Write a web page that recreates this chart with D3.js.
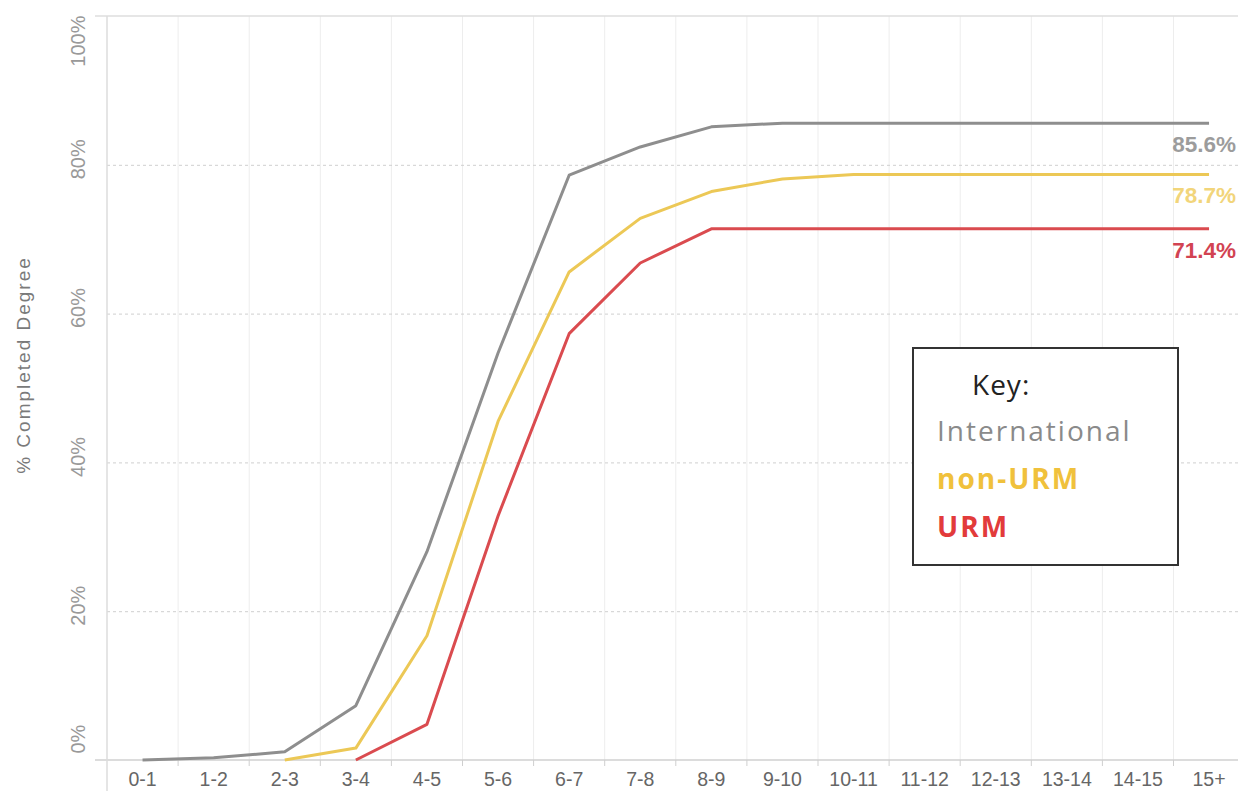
<!DOCTYPE html>
<html>
<head>
<meta charset="utf-8">
<script src="https://cdn.jsdelivr.net/npm/d3@7"></script>
<style>
    body { margin: 0; background: #fff; }
    svg { display: block; font-family: "Liberation Sans", Arial, sans-serif; }
    .grid line { stroke: #ededed; }
    .hgrid line { stroke: #cfcfcf; stroke-dasharray: 3, 3; }
    .axis path { display: none; }
</style>
</head>
<body>
<div id="chart"></div>
<script>
/* global d3 */

// DATA
var categories = ["0-1", "1-2", "2-3", "3-4", "4-5", "5-6", "6-7", "7-8",
    "8-9", "9-10", "10-11", "11-12", "12-13", "13-14", "14-15", "15+"];
var international = [0, 0.3, 1.1, 7.3, 28.0, 54.7, 78.6, 82.4, 85.1, 85.6, 85.6, 85.6, 85.6, 85.6, 85.6, 85.6];
var nonUrm = [null, null, 0, 1.6, 16.7, 45.5, 65.6, 72.8, 76.4, 78.1, 78.7, 78.7, 78.7, 78.7, 78.7, 78.7];
var urm = [null, null, null, 0, 4.8, 32.8, 57.3, 66.8, 71.4, 71.4, 71.4, 71.4, 71.4, 71.4, 71.4, 71.4];
var yTicks = [0, 20, 40, 60, 80, 100];
var seriesNames = ["URM", "non-URM", "International"];

var W = 1238, H = 791;
var margin = { top: 16, left: 107, bottom: 31 };
var bandW = 71.1;

var colors = { "International": "#8e8e8e", "non-URM": "#ecc856", "URM": "#da4b4f" };
var labelColors = { "International": "#9c9c9c", "non-URM": "#f2d57a", "URM": "#d24352" };

var x = d3.scaleBand()
    .domain(categories)
    .range([margin.left, margin.left + bandW * categories.length]);
var y = d3.scaleLinear()
    .domain([0, 100])
    .range([H - margin.bottom, margin.top]);

var svg = d3.select("#chart").append("svg")
    .attr("width", W)
    .attr("height", H);

// vertical gridlines at band boundaries
svg.append("g")
    .attr("class", "grid")
    .selectAll("line")
    .data(categories.slice(1))
    .enter().append("line")
    .attr("x1", function (d) { return x(d); })
    .attr("x2", function (d) { return x(d); })
    .attr("y1", y(100))
    .attr("y2", y(0));

// horizontal dashed gridlines
svg.append("g")
    .attr("class", "axis hgrid")
    .attr("transform", "translate(" + margin.left + ",0)")
    .call(d3.axisLeft(y).tickValues([20, 40, 60, 80]).tickSize(-(W - margin.left)).tickFormat(""));

// top / bottom / left frame lines
svg.append("line")
    .attr("x1", 95).attr("x2", W)
    .attr("y1", y(100)).attr("y2", y(100))
    .attr("stroke", "#dedede").attr("stroke-width", 1.5);
svg.append("line")
    .attr("x1", 95).attr("x2", W)
    .attr("y1", y(0)).attr("y2", y(0))
    .attr("stroke", "#d0d0d0").attr("stroke-width", 1.5);
svg.append("line")
    .attr("x1", margin.left).attr("x2", margin.left)
    .attr("y1", y(100)).attr("y2", H)
    .attr("stroke", "#dcdcdc").attr("stroke-width", 1.5);

// boundary tick marks under the x axis
svg.append("g")
    .selectAll("line")
    .data(categories.slice(1))
    .enter().append("line")
    .attr("x1", function (d) { return x(d); })
    .attr("x2", function (d) { return x(d); })
    .attr("y1", y(0))
    .attr("y2", y(0) + 6)
    .attr("stroke", "#cfcfcf");

// x axis labels
var xAxis = svg.append("g")
    .attr("class", "axis x")
    .attr("transform", "translate(0," + y(0) + ")")
    .call(d3.axisBottom(x).tickSize(0).tickPadding(12));
xAxis.selectAll("text")
    .attr("font-size", 19.5)
    .attr("fill", "#666")
    .attr("font-family", "Liberation Sans, Arial, sans-serif");

// y axis labels (rotated)
var yAxis = svg.append("g")
    .attr("class", "axis y")
    .attr("transform", "translate(" + margin.left + ",0)")
    .call(d3.axisLeft(y).tickValues(yTicks).tickSize(0)
        .tickFormat(function (d) { return d + "%"; }));
yAxis.selectAll(".tick text")
    .attr("font-size", 20)
    .attr("fill", "#999")
    .attr("font-family", "Liberation Sans, Arial, sans-serif")
    .attr("x", null)
    .attr("dy", null)
    .attr("transform", "translate(-29,-6) rotate(-90)")
    .style("text-anchor", "middle")
    .attr("dominant-baseline", "central")
    .each(function (d) {
        var t = d3.select(this);
        if (d === 100) t.style("text-anchor", "end").attr("transform", "translate(-29,-1) rotate(-90)");
        if (d === 0) t.style("text-anchor", "start").attr("transform", "translate(-29,-7) rotate(-90)");
    });

// y axis title
svg.append("text")
    .attr("transform", "translate(23," + 365 + ") rotate(-90)")
    .attr("text-anchor", "middle")
    .attr("dominant-baseline", "central")
    .attr("font-size", 19)
    .attr("letter-spacing", 2)
    .attr("fill", "#7a7a7a")
    .text("% Completed Degree");

// LINES
var seriesData = {
    "International": international,
    "non-URM": nonUrm,
    "URM": urm
};

var line = d3.line()
    .defined(function (d) { return d.v !== null; })
    .x(function (d) { return x(d.c) + x.bandwidth() / 2; })
    .y(function (d) { return y(d.v); });

seriesNames.forEach(function (name) {
    var pts = categories.map(function (c, i) { return { c: c, v: seriesData[name][i] }; });
    svg.append("path")
        .datum(pts)
        .attr("fill", "none")
        .attr("stroke", colors[name])
        .attr("stroke-width", 3)
        .attr("stroke-linejoin", "round")
        .attr("d", line);

    var last = pts[pts.length - 1];
    svg.append("text")
        .attr("x", 1236)
        .attr("y", y(last.v) + 29)
        .attr("text-anchor", "end")
        .attr("font-size", 22.5)
        .attr("font-weight", "bold")
        .attr("fill", labelColors[name])
        .text(last.v.toFixed(1) + "%");
});

// KEY BOX
var key = svg.append("g").attr("transform", "translate(913,348)");
key.append("rect")
    .attr("width", 265)
    .attr("height", 217)
    .attr("fill", "#fff")
    .attr("stroke", "#333")
    .attr("stroke-width", 2);
key.append("text")
    .attr("x", 59).attr("y", 47)
    .attr("font-family", "Open Sans, sans-serif")
    .attr("font-size", 28)
    .attr("letter-spacing", 1)
    .attr("fill", "#222")
    .text("Key:");
var keyItems = [
    { name: "International", weight: "normal", color: "#8a8a8a" },
    { name: "non-URM", weight: "bold", color: "#f0c13c" },
    { name: "URM", weight: "bold", color: "#e23b3b" }
];
key.selectAll(".item")
    .data(keyItems)
    .enter().append("text")
    .attr("class", "item")
    .attr("x", 24)
    .attr("y", function (d, i) { return 93 + i * 48; })
    .attr("font-family", "Open Sans, sans-serif")
    .attr("font-size", 28)
    .attr("letter-spacing", 2)
    .attr("font-weight", function (d) { return d.weight; })
    .attr("fill", function (d) { return d.color; })
    .text(function (d) { return d.name; });
</script>
</body>
</html>
